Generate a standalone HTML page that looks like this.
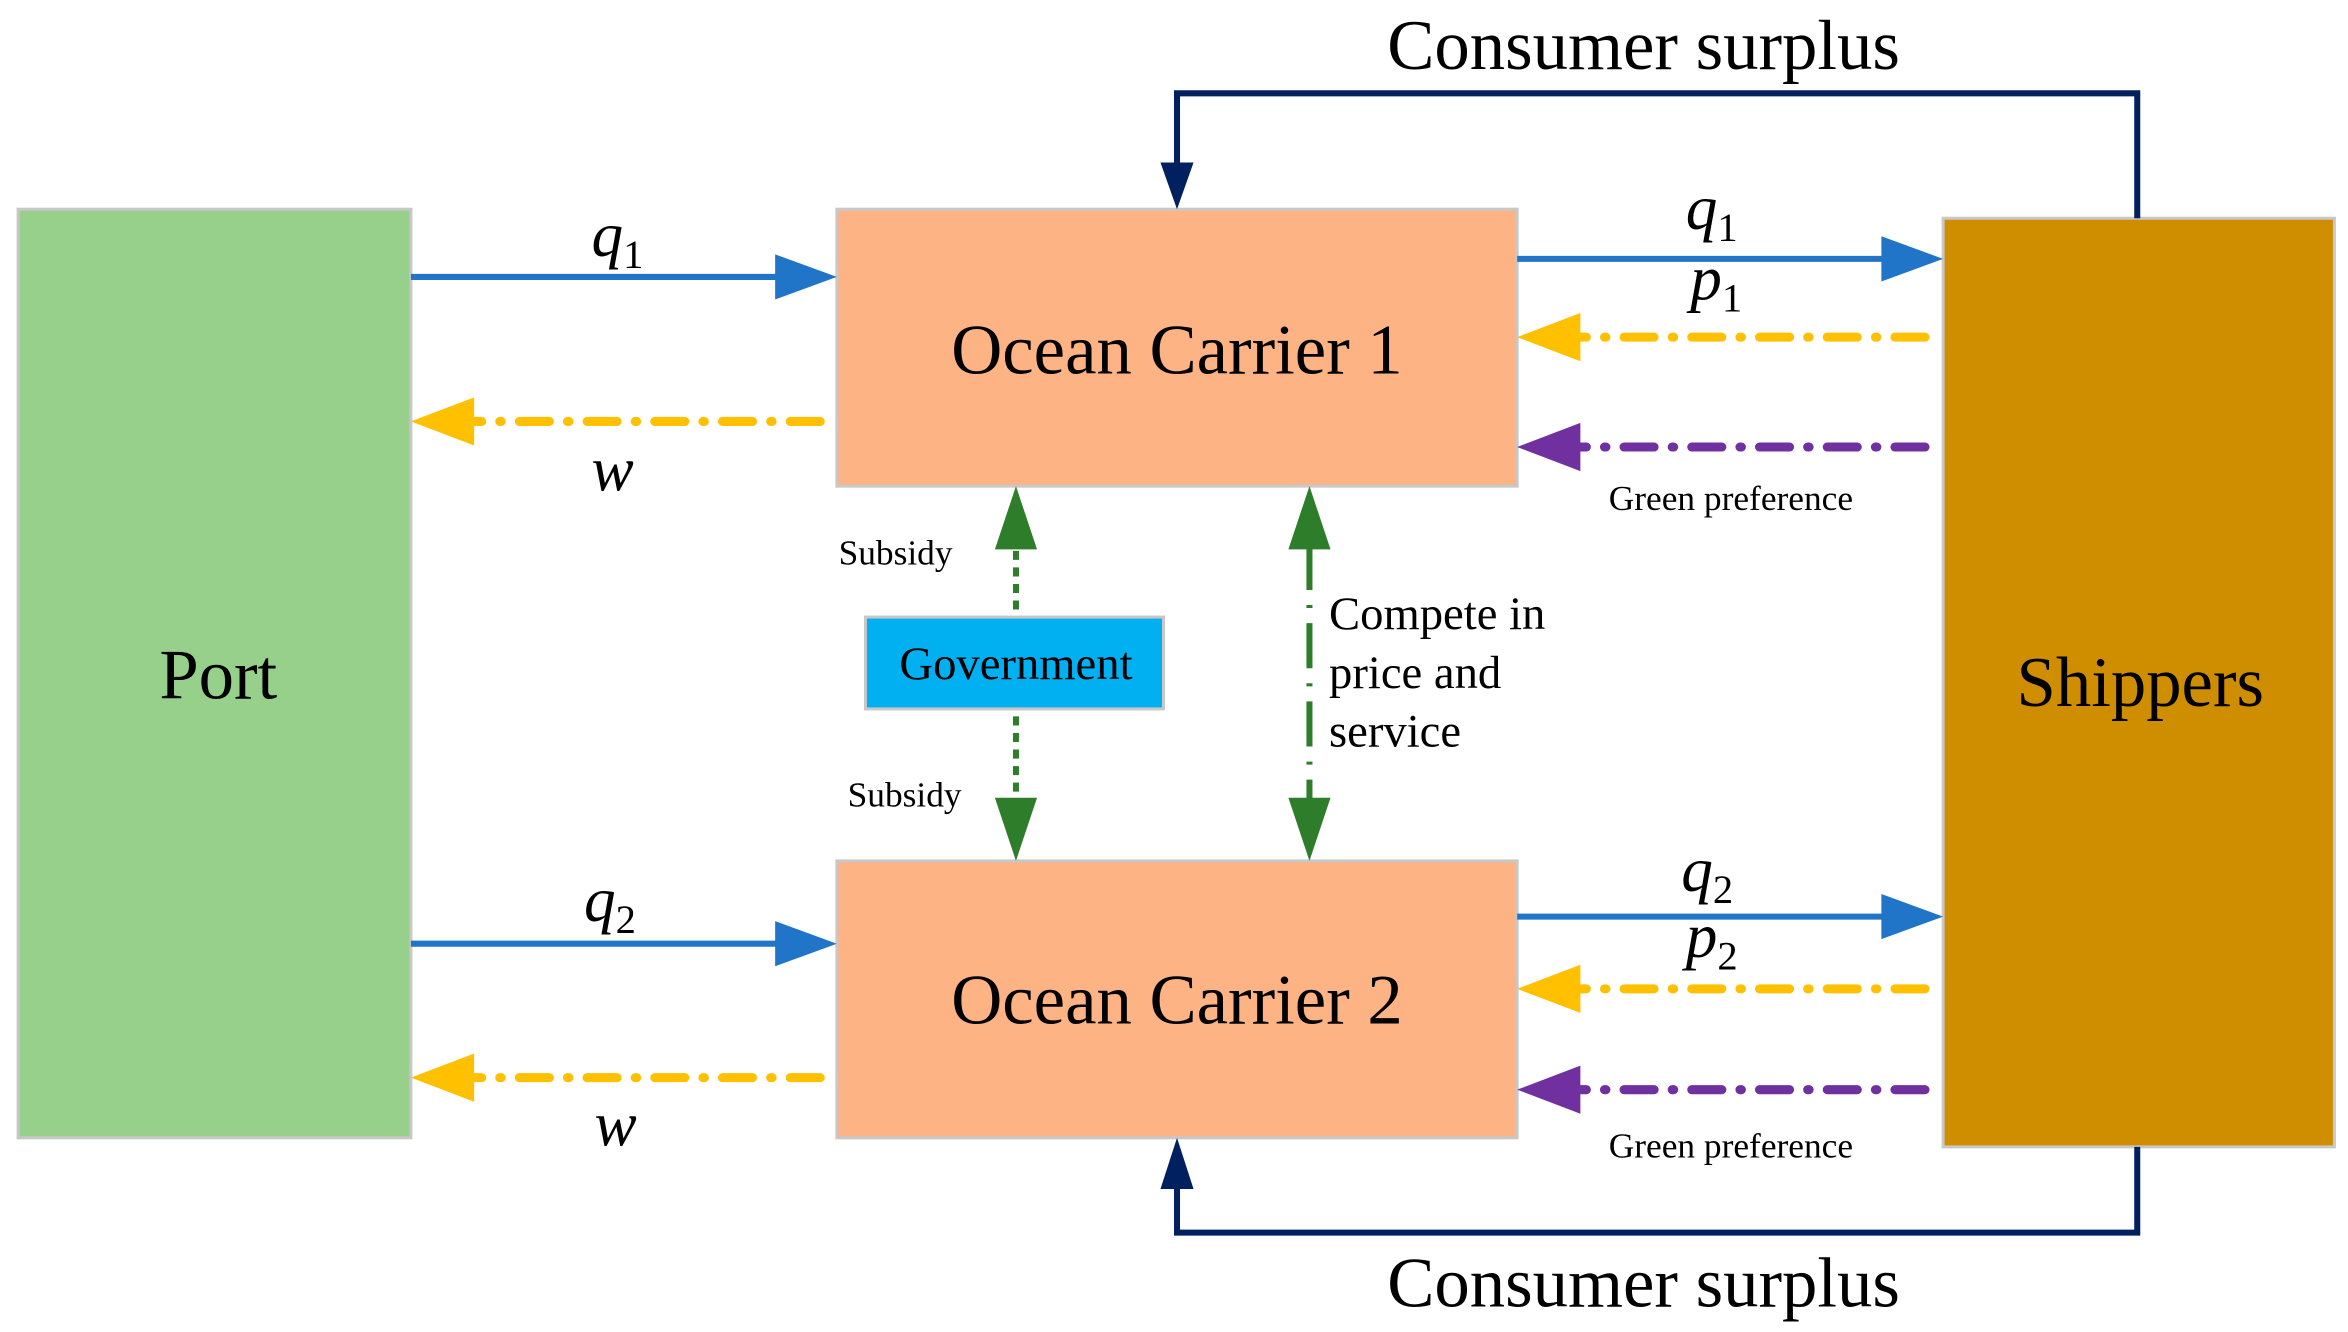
<!DOCTYPE html>
<html><head><meta charset="utf-8"><style>
html,body{margin:0;padding:0;background:#fff}
svg{display:block}
text{font-family:"Liberation Serif",serif;fill:#000}
.v{font-style:italic;font-size:42px}
.s{font-size:27px}
</style></head><body>
<svg width="2348" height="1332" viewBox="0 0 1560 885" xmlns="http://www.w3.org/2000/svg">
<rect x="12" y="139" width="261" height="617" fill="#97d08a" stroke="#c8c8c8" stroke-width="2"/>
<rect x="556" y="139" width="452" height="184" fill="#fdb383" stroke="#c8c8c8" stroke-width="2"/>
<rect x="556" y="572" width="452" height="184" fill="#fdb383" stroke="#c8c8c8" stroke-width="2"/>
<rect x="1291" y="145" width="260" height="617" fill="#cf8e00" stroke="#c8c8c8" stroke-width="2"/>
<rect x="575" y="410" width="198" height="61" fill="#00b0f0" stroke="#c8c8c8" stroke-width="2"/>
<text x="145" y="464" font-size="47" text-anchor="middle">Port</text>
<text x="782" y="248" font-size="47" text-anchor="middle">Ocean Carrier 1</text>
<text x="782" y="680" font-size="47" text-anchor="middle">Ocean Carrier 2</text>
<text x="1422" y="469" font-size="47" text-anchor="middle">Shippers</text>
<text x="675" y="451" font-size="31" text-anchor="middle">Government</text>
<g stroke="#002060" stroke-width="4" fill="none">
<path d="M1420,145V62H782V110"/>
<path d="M1420,762V819H782V788"/>
</g>
<path d="M771,108L793,108L782,139z" fill="#002060"/>
<path d="M771,790L793,790L782,756z" fill="#002060"/>
<text x="1092" y="46" font-size="47" text-anchor="middle">Consumer surplus</text>
<text x="1092" y="868" font-size="47" text-anchor="middle">Consumer surplus</text>
<g stroke="#2075c9" stroke-width="4">
<line x1="273" y1="184" x2="518" y2="184"/>
<line x1="273" y1="627" x2="518" y2="627"/>
<line x1="1008" y1="172" x2="1253" y2="172"/>
<line x1="1008" y1="609" x2="1253" y2="609"/>
</g>
<g fill="#2075c9">
<path d="M515,169L556,184L515,199z"/>
<path d="M515,612L556,627L515,642z"/>
<path d="M1250,157L1291,172L1250,187z"/>
<path d="M1250,594L1291,609L1250,624z"/>
</g>
<g stroke="#ffc000" stroke-width="6" stroke-linecap="round" fill="none" stroke-dasharray="20 12 1 12">
<line x1="545" y1="280" x2="310" y2="280"/>
<line x1="545" y1="716" x2="310" y2="716"/>
<line x1="1279" y1="224" x2="1045" y2="224"/>
<line x1="1279" y1="657" x2="1045" y2="657"/>
</g>
<g fill="#ffc000">
<path d="M315,264L273,280L315,296z"/>
<path d="M315,700L273,716L315,732z"/>
<path d="M1050,208L1008,224L1050,240z"/>
<path d="M1050,641L1008,657L1050,673z"/>
</g>
<g stroke="#7030a0" stroke-width="6" stroke-linecap="round" fill="none" stroke-dasharray="20 12 1 12">
<line x1="1279" y1="297" x2="1045" y2="297"/>
<line x1="1279" y1="724" x2="1045" y2="724"/>
</g>
<g fill="#7030a0">
<path d="M1050,281L1008,297L1050,313z"/>
<path d="M1050,708L1008,724L1050,740z"/>
</g>
<text x="1150" y="339" font-size="23.5" text-anchor="middle">Green preference</text>
<text x="1150" y="769" font-size="23.5" text-anchor="middle">Green preference</text>
<g stroke="#2e7d2a" stroke-width="4" fill="none" stroke-dasharray="6 5">
<line x1="675" y1="405" x2="675" y2="363"/>
<line x1="675" y1="476" x2="675" y2="532"/>
</g>
<g fill="#2e7d2a">
<path d="M661,365L675,323L689,365z"/>
<path d="M661,530L675,572L689,530z"/>
<path d="M856,365L870,323L884,365z"/>
<path d="M856,530L870,572L884,530z"/>
</g>
<g stroke="#2e7d2a" stroke-width="4" fill="none" stroke-dasharray="30 10 2 10">
<line x1="870" y1="362" x2="870" y2="532"/>
</g>
<text x="595" y="375" font-size="23.5" text-anchor="middle">Subsidy</text>
<text x="601" y="536" font-size="23.5" text-anchor="middle">Subsidy</text>
<text x="883" y="418" font-size="31">Compete in</text>
<text x="883" y="457" font-size="31">price and</text>
<text x="883" y="496" font-size="31">service</text>
<text x="393" y="170" class="v">q<tspan class="s" font-style="normal" dy="8">1</tspan></text>
<text x="388" y="612" class="v">q<tspan class="s" font-style="normal" dy="8">2</tspan></text>
<text x="1120" y="152" class="v">q<tspan class="s" font-style="normal" dy="8">1</tspan></text>
<text x="1117" y="592" class="v">q<tspan class="s" font-style="normal" dy="8">2</tspan></text>
<text x="1123" y="199" class="v">p<tspan class="s" font-style="normal" dy="8">1</tspan></text>
<text x="1120" y="636" class="v">p<tspan class="s" font-style="normal" dy="8">2</tspan></text>
<text x="407" y="326" class="v" text-anchor="middle">w</text>
<text x="409" y="761" class="v" text-anchor="middle">w</text>
</svg>
</body></html>
